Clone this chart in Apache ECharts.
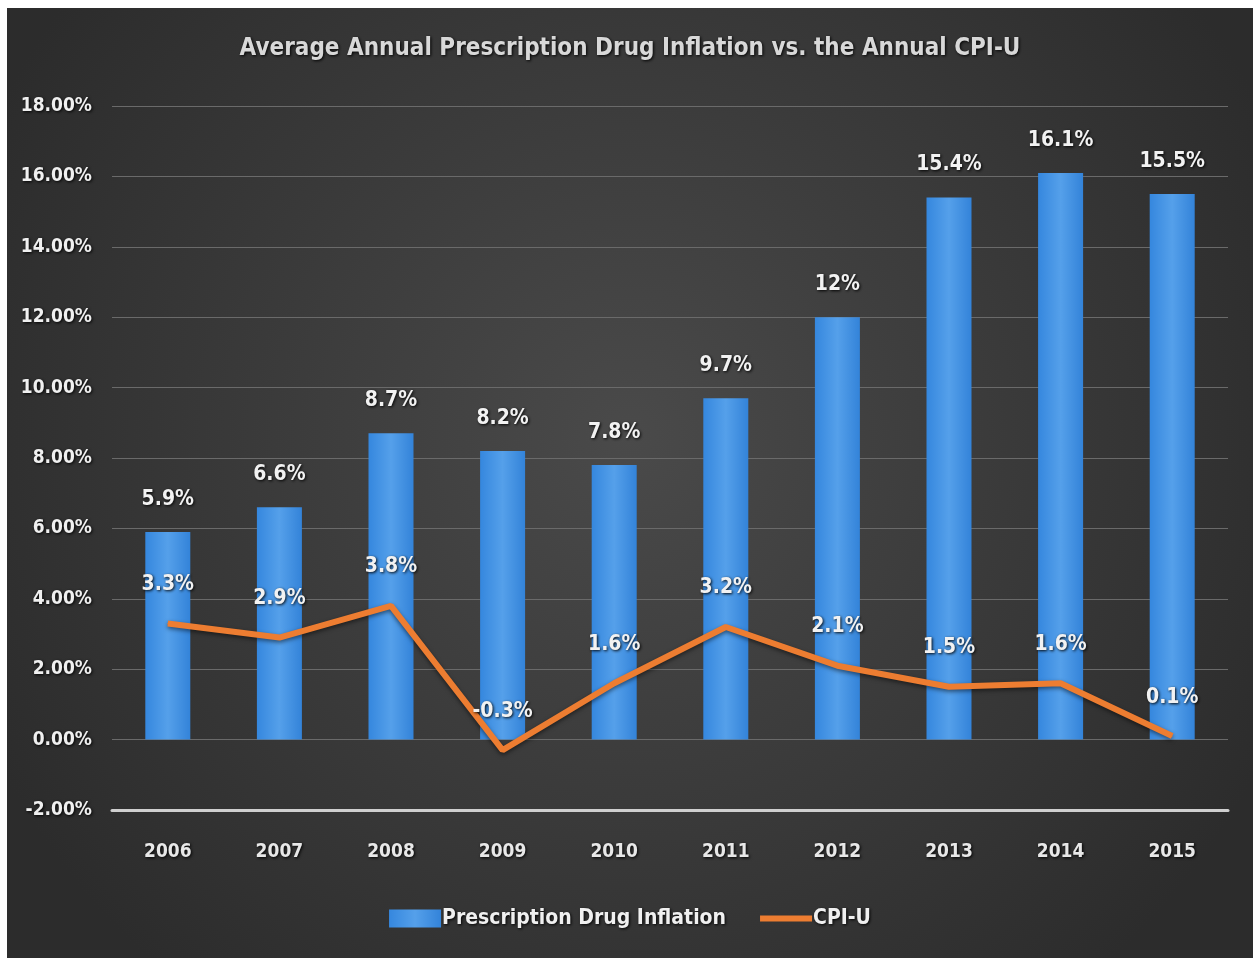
<!DOCTYPE html>
<html><head><meta charset="utf-8">
<script src="https://cdn.jsdelivr.net/npm/echarts@6/dist/echarts.min.js"></script>
<style>
html,body{margin:0;padding:0;background:#fff;}
#c{position:absolute;left:7px;top:8px;width:1246px;height:950px;}
</style></head><body>
<div id="c"></div>
<script>
const years = ['2006','2007','2008','2009','2010','2011','2012','2013','2014','2015'];
const drugInflation = [5.9, 6.6, 8.7, 8.2, 7.8, 9.7, 12, 15.4, 16.1, 15.5];
const cpiU = [3.3, 2.9, 3.8, -0.3, 1.6, 3.2, 2.1, 1.5, 1.6, 0.1];
const yTicks = [-2, 0, 2, 4, 6, 8, 10, 12, 14, 16, 18];

const fontFam = '"DejaVu Sans Condensed","Liberation Sans Narrow","Open Sans",sans-serif';
const shadowText = {textShadowColor:'rgba(0,0,0,0.95)', textShadowBlur:3, textShadowOffsetX:1, textShadowOffsetY:1};

const chart = echarts.init(document.getElementById('c'), null, {renderer:'canvas'});
chart.setOption({
  backgroundColor: {
    type:'radial', x:0.5, y:0.45, r:0.75,
    colorStops:[{offset:0,color:'#4a4a4a'},{offset:1,color:'#2c2c2c'}]
  },
  title: {
    text: 'Average Annual Prescription Drug Inflation vs. the Annual CPI-U',
    left: 'center', top: 24,
    textStyle: Object.assign({color:'#d8d8d8', fontSize:24, fontWeight:'bold', fontFamily:fontFam}, shadowText)
  },
  legend: {
    bottom: 24, left: 'center', itemGap: 34, itemWidth: 52, itemHeight: 18,
    data: [
      {name:'Prescription Drug Inflation', icon:'rect'},
      {name:'CPI-U', icon:'path://M0,0 L52,0 L52,6 L0,6 Z'}
    ],
    textStyle: Object.assign({color:'#f0f0f0', fontSize:21, fontWeight:'bold', fontFamily:fontFam, padding:[0,0,0,-4]}, shadowText)
  },
  grid: { left: 105, right: 25, top: 98, bottom: 148 },
  xAxis: {
    type: 'category', data: years,
    axisLine: {onZero:false, lineStyle:{color:'#cfcfcf', width:3}},
    axisTick: {show:false},
    axisLabel: Object.assign({color:'#e8e8e8', fontSize:19, fontWeight:'bold', fontFamily:fontFam, margin:33}, shadowText)
  },
  yAxis: {
    type: 'value', min: -2, max: 18, interval: 2,
    axisLine: {show:false}, axisTick:{show:false},
    splitLine: {lineStyle:{color:'#6a6a6a', width:1}},
    axisLabel: Object.assign({color:'#f0f0f0', fontSize:19, fontWeight:'bold', fontFamily:fontFam, margin:20,
      formatter: v => v.toFixed(2) + '%'}, shadowText)
  },
  series: [
    {
      name: 'Prescription Drug Inflation', type: 'bar', barWidth: 45,
      data: drugInflation,
      itemStyle: {
        color: {type:'linear', x:0, y:0, x2:1, y2:0,
          colorStops:[{offset:0,color:'#3587de'},{offset:0.5,color:'#55a0ea'},{offset:1,color:'#3383d9'}]}
      },
      label: Object.assign({show:true, position:'top', distance:22, color:'#f2f2f2', fontSize:21, fontWeight:'bold', fontFamily:fontFam,
        formatter: p => p.value + '%'}, shadowText)
    },
    {
      name: 'CPI-U', type: 'line', data: cpiU,
      symbol: 'circle', symbolSize: 1, showSymbol: true,
      lineStyle: {color:'#ed7d31', width:6, shadowColor:'rgba(0,0,0,0.5)', shadowBlur:4, shadowOffsetY:2},
      itemStyle: {color:'#ed7d31'},
      label: Object.assign({show:true, position:'top', distance:28, color:'#f2f2f2', fontSize:21, fontWeight:'bold', fontFamily:fontFam,
        formatter: p => p.value + '%'}, shadowText),
      labelLayout: {hideOverlap:false},
      z: 5
    }
  ]
});
</script>
</body></html>
